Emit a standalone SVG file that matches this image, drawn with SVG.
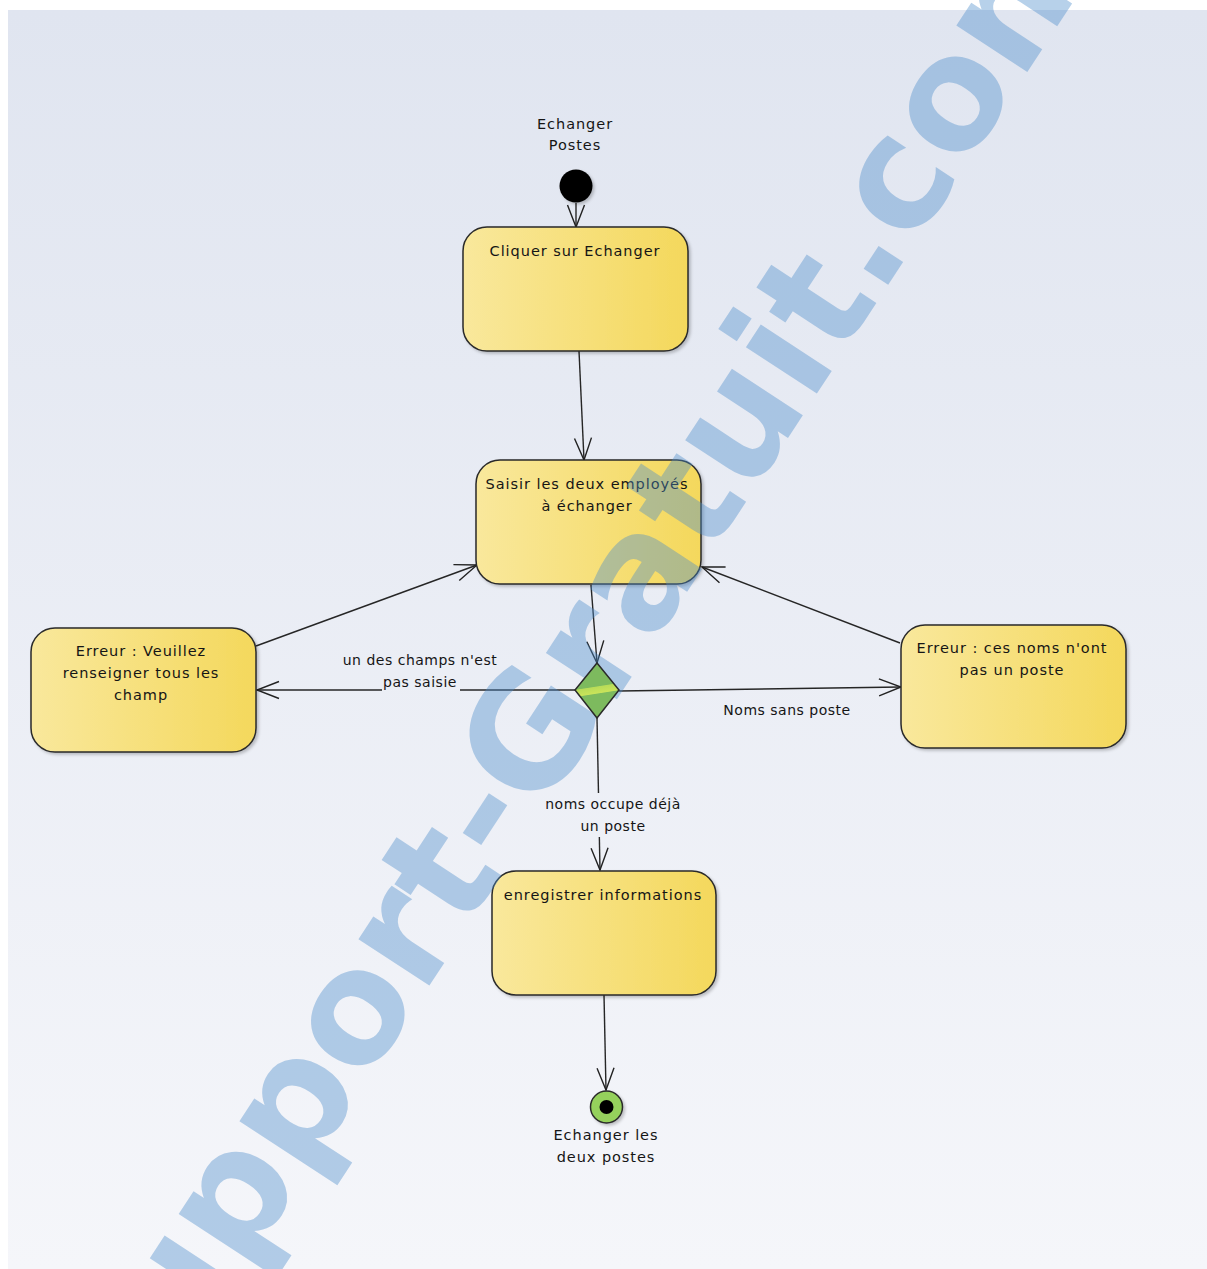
<svg xmlns="http://www.w3.org/2000/svg" width="1207" height="1269" viewBox="0 0 1207 1269">
<defs>
<linearGradient id="bg" gradientUnits="userSpaceOnUse" x1="0" y1="10" x2="0" y2="1269">
<stop offset="0" stop-color="#e0e5f0"/>
<stop offset="1" stop-color="#f5f6fa"/>
</linearGradient>
<linearGradient id="nodeFill" x1="0" y1="0" x2="1" y2="0">
<stop offset="0" stop-color="#f9e89c"/>
<stop offset="1" stop-color="#f4d85c"/>
</linearGradient>
<linearGradient id="diaFill" x1="0.45" y1="0.1" x2="0.55" y2="0.9">
<stop offset="0" stop-color="#7dba5e"/>
<stop offset="0.40" stop-color="#7dba5e"/>
<stop offset="0.42" stop-color="#b8dc58"/>
<stop offset="0.56" stop-color="#c9e35a"/>
<stop offset="0.58" stop-color="#7dba5e"/>
<stop offset="1" stop-color="#7dba5e"/>
</linearGradient>
<filter id="shadow" x="-10%" y="-10%" width="125%" height="130%">
<feDropShadow dx="2" dy="2" stdDeviation="1.5" flood-color="#000" flood-opacity="0.22"/>
</filter>
<marker id="arr" viewBox="-24 -11 26 22" refX="0" refY="0" markerWidth="26" markerHeight="22" markerUnits="userSpaceOnUse" orient="auto">
<path d="M-22,-8.5 L0,0 L-22,8.5" fill="none" stroke="#222" stroke-width="1.4"/>
</marker>
</defs>
<style>
.node rect.box { fill: url(#nodeFill); stroke: #2a2a2a; stroke-width: 1.5; filter: url(#shadow); }
.lbl { font-family: "DejaVu Sans", Verdana, sans-serif; font-size: 14.5px; letter-spacing: 0.95px; fill: #151515; text-anchor: middle; }
.elbl { font-family: "DejaVu Sans", Verdana, sans-serif; font-size: 14px; letter-spacing: 0.5px; fill: #151515; text-anchor: middle; }
.conn line, .conn path { stroke: #262626; stroke-width: 1.4; fill: none; }
.wm { font-family: "DejaVu Sans", Verdana, sans-serif; font-weight: bold; font-size: 155px; fill: #4b8cca; fill-opacity: 0.4; }
</style>

<rect x="0" y="0" width="1207" height="1269" fill="#ffffff"/>
<rect x="8" y="10" width="1199" height="1259" fill="url(#bg)"/>

<g id="connectors" class="conn">
<line x1="576" y1="203" x2="576" y2="227" marker-end="url(#arr)"/>
<line x1="579" y1="351" x2="584" y2="460" marker-end="url(#arr)"/>
<line x1="591" y1="585" x2="597" y2="663" marker-end="url(#arr)"/>
<line x1="575" y1="690" x2="257" y2="690" marker-end="url(#arr)"/>
<line x1="619" y1="691" x2="901" y2="687" marker-end="url(#arr)"/>
<line x1="597" y1="718" x2="600" y2="870" marker-end="url(#arr)"/>
<line x1="604" y1="995" x2="606" y2="1090" marker-end="url(#arr)"/>
<line x1="256" y1="646" x2="477" y2="565" marker-end="url(#arr)"/>
<line x1="900" y1="643" x2="702" y2="567" marker-end="url(#arr)"/>
<g id="edge-labels">
<rect x="382" y="672" width="78" height="21" fill="url(#bg)"/>
<text class="elbl" x="420" y="665">un des champs n'est</text>
<text class="elbl" x="420" y="687">pas saisie</text>
<text class="elbl" x="787" y="715">Noms sans poste</text>
<rect x="541" y="793" width="146" height="44" fill="url(#bg)"/>
<text class="elbl" x="613" y="809">noms occupe déjà</text>
<text class="elbl" x="613" y="831">un poste</text>
</g>
</g>

<g id="start" class="node">
<text class="lbl" x="575" y="129">Echanger</text>
<text class="lbl" x="575" y="150">Postes</text>
<circle cx="576" cy="186" r="16.5" fill="#000" filter="url(#shadow)"/>
</g>

<g id="cliquer" class="node">
<rect class="box" x="463" y="227" width="225" height="124" rx="24"/>
<text class="lbl" x="575" y="256">Cliquer sur Echanger</text>
</g>

<g id="saisir" class="node">
<rect class="box" x="476" y="460" width="225" height="124" rx="24"/>
<text class="lbl" x="587" y="489">Saisir les deux employés</text>
<text class="lbl" x="587" y="511">à échanger</text>
</g>

<g id="erreur-champ" class="node">
<rect class="box" x="31" y="628" width="225" height="124" rx="24"/>
<text class="lbl" x="141" y="656">Erreur : Veuillez</text>
<text class="lbl" x="141" y="678">renseigner tous les</text>
<text class="lbl" x="141" y="700">champ</text>
</g>

<g id="erreur-poste" class="node">
<rect class="box" x="901" y="625" width="225" height="123" rx="24"/>
<text class="lbl" x="1012" y="653">Erreur : ces noms n'ont</text>
<text class="lbl" x="1012" y="675">pas un poste</text>
</g>

<g id="enregistrer" class="node">
<rect class="box" x="492" y="871" width="224" height="124" rx="24"/>
<text class="lbl" x="603" y="900">enregistrer informations</text>
</g>

<g id="end" class="node">
<circle cx="606.5" cy="1107" r="16" fill="#95d15c" stroke="#2a2a2a" stroke-width="1.5" filter="url(#shadow)"/>
<circle cx="606.5" cy="1107" r="7" fill="#000"/>
<text class="lbl" x="606" y="1140">Echanger les</text>
<text class="lbl" x="606" y="1162">deux postes</text>
</g>

<g id="watermark">
<text class="wm" transform="translate(121,1457) rotate(-56.8)">Support-Gratuit.com</text>
</g>

<g id="decision" class="node">
<polygon points="597,663 619,690 597,718 575,690" fill="url(#diaFill)" stroke="#2a2a2a" stroke-width="1.5"/>
</g>
</svg>
